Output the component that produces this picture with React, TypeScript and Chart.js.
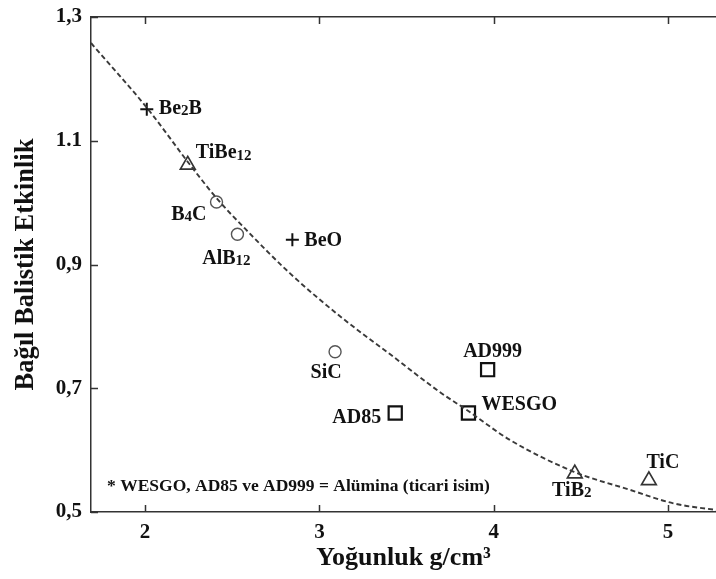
import { useEffect, useRef } from 'react';
import { Chart, registerables } from 'chart.js';

Chart.register(...registerables);

// ---- data ----
const MATERIALS = ['Be₂B', 'TiBe₁₂', 'B₄C', 'AlB₁₂', 'BeO', 'SiC', 'AD999', 'AD85', 'WESGO', 'TiB₂', 'TiC'];
const DENSITY = [2.01, 2.245, 2.41, 2.53, 2.845, 3.09, 3.965, 3.435, 3.855, 4.465, 4.89];
const EFFICIENCY = [1.151, 1.061, 1.001, 0.949, 0.94, 0.759, 0.73, 0.66, 0.66, 0.562, 0.551];
const MARKERS = ['plus', 'triangle', 'circle', 'circle', 'plus', 'circle', 'square', 'square', 'square', 'triangle', 'triangle'];

const FIT_X = [1.69, 2.02, 2.25, 2.42, 2.57, 2.83, 3.12, 3.41, 3.69, 3.85, 4.09, 4.46, 4.78, 5.03, 5.28];
const FIT_Y = [1.258, 1.15, 1.064, 1.004, 0.959, 0.886, 0.816, 0.754, 0.694, 0.664, 0.617, 0.565, 0.536, 0.514, 0.503];

const X_TICKS = [2, 3, 4, 5];
const Y_TICKS = [0.5, 0.7, 0.9, 1.1, 1.3];
const Y_TICK_LABELS = ['0,5', '0,7', '0,9', '1.1', '1,3'];

const X_TITLE = 'Yoğunluk g/cm³';
const Y_TITLE = 'Bağıl Balistik Etkinlik';
const NOTE = '* WESGO, AD85 ve AD999 = Alümina (ticari isim)';

// ---- styling ----
const FONT = '"Liberation Serif", "Times New Roman", serif';
const MARKER_STYLE: Record<string, any> = {
  plus: { pointStyle: 'cross', radius: 6.5, color: '#111', width: 2 },
  triangle: { pointStyle: 'triangle', radius: 8.5, color: '#333', width: 1.7 },
  circle: { pointStyle: 'circle', radius: 6, color: '#555', width: 1.4 },
  square: { pointStyle: 'rect', radius: 9.3, color: '#111', width: 2.2 },
};
// label placement relative to the point: [dx, dy, align]
const LABEL_PLACE: [number, number, CanvasTextAlign][] = [
  [12, -2, 'left'],
  [8, -13, 'left'],
  [-10, 11, 'right'],
  [-11, 23, 'center'],
  [12, 0, 'left'],
  [-9, 20, 'center'],
  [5, -19, 'center'],
  [-14, 3, 'right'],
  [13, -10, 'left'],
  [-3, 16, 'center'],
  [14, -19, 'center'],
];

const SUB: Record<string, string> = {
  '₀': '0', '₁': '1', '₂': '2', '₃': '3', '₄': '4', '₅': '5', '₆': '6', '₇': '7', '₈': '8', '₉': '9',
};

function drawRich(ctx: CanvasRenderingContext2D, text: string, x: number, y: number, align: CanvasTextAlign, size: number) {
  const runs: { t: string; sub: boolean }[] = [];
  for (const ch of text) {
    const sub = ch in SUB;
    const c = sub ? SUB[ch] : ch;
    const last = runs[runs.length - 1];
    if (last && last.sub === sub) last.t += c;
    else runs.push({ t: c, sub });
  }
  const subSize = Math.round(size * 0.74);
  const widths = runs.map((r) => {
    ctx.font = `bold ${r.sub ? subSize : size}px ${FONT}`;
    return ctx.measureText(r.t).width;
  });
  const total = widths.reduce((a, b) => a + b, 0);
  let cx = align === 'left' ? x : align === 'right' ? x - total : x - total / 2;
  ctx.textAlign = 'left';
  ctx.textBaseline = 'alphabetic';
  const base = y + size * 0.33;
  runs.forEach((r, i) => {
    ctx.font = `bold ${r.sub ? subSize : size}px ${FONT}`;
    ctx.fillText(r.t, cx, r.sub ? base + size * 0.06 : base);
    cx += widths[i];
  });
}

const decorPlugin = {
  id: 'decor',
  afterDraw(chart: any) {
    const { ctx, chartArea, scales } = chart;
    const { left, top, bottom } = chartArea;
    const xs = scales.x;
    const ys = scales.y;
    ctx.save();
    // inward ticks
    ctx.strokeStyle = '#333';
    ctx.lineWidth = 1.5;
    ctx.beginPath();
    X_TICKS.forEach((v) => {
      const px = Math.round(xs.getPixelForValue(v)) + 0.5;
      ctx.moveTo(px, bottom);
      ctx.lineTo(px, bottom - 7);
      ctx.moveTo(px, top);
      ctx.lineTo(px, top + 7);
    });
    Y_TICKS.forEach((v) => {
      const py = Math.round(ys.getPixelForValue(v)) + 0.5;
      ctx.moveTo(left, py);
      ctx.lineTo(left + 7, py);
    });
    ctx.stroke();
    // point labels
    ctx.fillStyle = '#111';
    MATERIALS.forEach((name, i) => {
      const px = xs.getPixelForValue(DENSITY[i]);
      const py = ys.getPixelForValue(EFFICIENCY[i]);
      const [dx, dy, align] = LABEL_PLACE[i];
      drawRich(ctx, name, px + dx, py + dy, align, 20);
    });
    // note
    ctx.font = `bold 17.5px ${FONT}`;
    ctx.textAlign = 'left';
    ctx.textBaseline = 'middle';
    ctx.fillText(NOTE, left + 16, bottom - 26);
    ctx.restore();
  },
};

export default function App() {
  const ref = useRef<HTMLCanvasElement | null>(null);

  useEffect(() => {
    if (!ref.current) return;
    const groups = ['plus', 'triangle', 'circle', 'square'];
    const pointSets = groups.map((g) => {
      const s = MARKER_STYLE[g];
      const data: { x: number; y: number }[] = [];
      MARKERS.forEach((m, i) => {
        if (m === g) data.push({ x: DENSITY[i], y: EFFICIENCY[i] });
      });
      return {
        type: 'scatter' as const,
        label: g,
        data,
        showLine: false,
        pointStyle: s.pointStyle,
        pointRadius: s.radius,
        pointBorderColor: s.color,
        pointBackgroundColor: 'rgba(0,0,0,0)',
        pointBorderWidth: s.width,
        xAxisID: 'x',
        yAxisID: 'y',
        clip: false as any,
      };
    });

    const chart = new Chart(ref.current, {
      type: 'scatter',
      data: {
        datasets: [
          {
            type: 'line' as const,
            label: 'fit',
            data: FIT_X.map((x, i) => ({ x, y: FIT_Y[i] })),
            borderColor: '#3a3a3a',
            borderWidth: 1.9,
            borderDash: [5, 3],
            pointRadius: 0,
            fill: false,
            cubicInterpolationMode: 'monotone',
            showLine: true,
            xAxisID: 'x',
            yAxisID: 'y',
          } as any,
          ...pointSets,
        ],
      },
      options: {
        responsive: false,
        animation: false,
        layout: { padding: 0, autoPadding: false },
        plugins: {
          legend: { display: false },
          tooltip: { enabled: false },
        },
        scales: {
          x: {
            type: 'linear',
            position: 'bottom',
            min: 1.69,
            max: 5.275,
            afterBuildTicks: (s: any) => {
              s.ticks = X_TICKS.map((v) => ({ value: v }));
            },
            afterFit: (s: any) => {
              s.height = 67;
              s.paddingLeft = 0;
              s.paddingRight = 0;
            },
            grid: { display: false, drawTicks: false },
            border: { display: true, color: '#333', width: 1.5 },
            ticks: {
              padding: 8,
              color: '#111',
              font: { family: FONT, size: 21, weight: 'bold' },
              callback: (v: any) => String(v),
            },
            title: {
              display: true,
              text: X_TITLE,
              color: '#111',
              font: { family: FONT, size: 26, weight: 'bold' },
              padding: { top: 0, bottom: 5 },
            },
          },
          x2: {
            type: 'linear',
            position: 'top',
            min: 1.69,
            max: 5.275,
            afterFit: (s: any) => {
              s.height = 17;
              s.paddingLeft = 0;
              s.paddingRight = 0;
            },
            grid: { display: false, drawTicks: false },
            border: { display: true, color: '#333', width: 1.5 },
            ticks: { display: false },
          },
          y: {
            type: 'linear',
            position: 'left',
            min: 0.5,
            max: 1.3,
            afterBuildTicks: (s: any) => {
              s.ticks = Y_TICKS.map((v) => ({ value: v }));
            },
            afterFit: (s: any) => {
              s.width = 91;
              s.paddingTop = 0;
              s.paddingBottom = 0;
            },
            grid: { display: false, drawTicks: false },
            border: { display: true, color: '#333', width: 1.5 },
            ticks: {
              padding: 9,
              color: '#111',
              font: { family: FONT, size: 21, weight: 'bold' },
              callback: (v: any) => {
                const i = Y_TICKS.findIndex((t) => Math.abs(t - v) < 1e-6);
                return i >= 0 ? Y_TICK_LABELS[i] : '';
              },
            },
            title: {
              display: true,
              text: Y_TITLE,
              color: '#111',
              font: { family: FONT, size: 26.5, weight: 'bold' },
              padding: { top: 10, bottom: 0 },
            },
          },
        },
      },
      plugins: [decorPlugin],
    });
    return () => chart.destroy();
  }, []);

  return (
    <div style={{ position: 'absolute', left: 0, top: 0, width: 716, height: 579, background: '#fff' }}>
      <canvas ref={ref} width={716} height={579} />
    </div>
  );
}
